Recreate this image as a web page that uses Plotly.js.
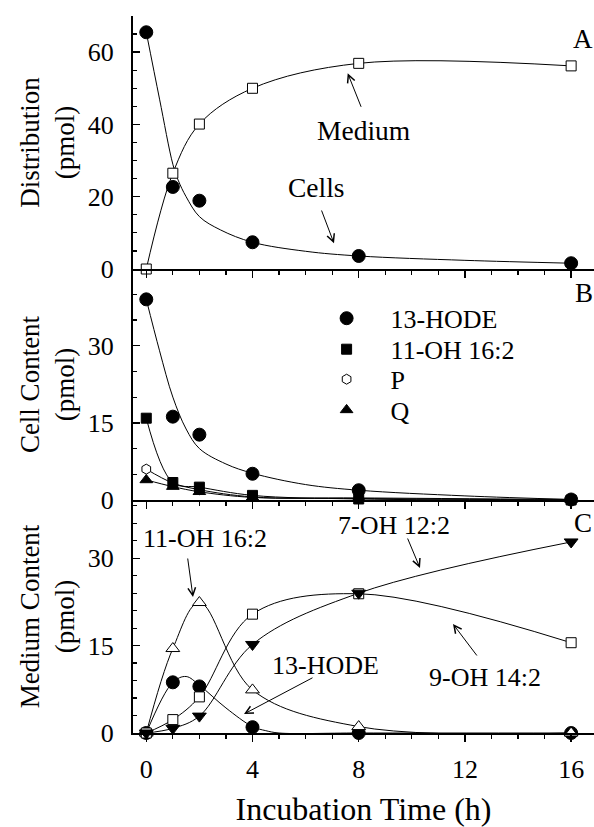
<!DOCTYPE html>
<html><head><meta charset="utf-8">
<script src="https://cdn.plot.ly/plotly-3.0.1.min.js"></script>
<style>html,body{margin:0;padding:0;overflow:hidden;background:#fff}#chart{width:594px;height:827px}</style>
</head><body><div id="chart"></div>
<script>
// ---------- data ----------
const hours = [0, 1, 2, 4, 8, 16];

// Panel A: distribution (pmol)
const cellsA  = [65.5, 22.7, 18.9, 7.4, 3.6, 1.6];
const mediumA = [0, 26.5, 40.1, 50.0, 56.9, 56.2];
const cellsCurveHours = [0, 0.5, 1, 1.2, 1.5, 2, 2.8, 4, 6, 8, 12, 16];
const cellsCurve      = [65.5, 47, 29, 24.6, 20, 14.5, 10.8, 7.4, 4.9, 3.6, 2.4, 1.6];

// Panel B: cell content (pmol)
const hodeB = [39.0, 16.2, 12.7, 5.1, 1.9, 0.1];
const oh16B = [15.9, 3.4, 2.5, 0.9, 0.2, 0];
const pB    = [6.0, 3.3, 2.0, 0.6, 0.3, 0];
const qB    = [3.9, 2.6, 1.6, 0.5, 0.4, 0.1];
const hodeCurveHoursB = [0, 0.5, 1, 1.5, 2, 3, 4, 6, 8, 12, 16];
const hodeCurveB      = [39, 29, 20, 13.8, 10, 7.0, 5.2, 3.0, 1.9, 0.8, 0.1];

// Panel C: medium content (pmol)
const oh16C = [0, 14.5, 22.4, 7.4, 1.1, 0];
const hodeC = [0, 8.7, 8.0, 1.0, 0, 0];
const oh14C = [0, 2.3, 6.2, 20.4, 23.9, 15.5];
const oh12C = [0, 0.8, 2.9, 15.2, 24.0, 32.8];
const hodeCurveHoursC = [0, 1, 1.5, 2, 3, 4, 4.5, 5, 8, 16];
const hodeCurveC      = [0, 8.7, 9.7, 8.2, 4.3, 1.1, 0.4, 0, 0, 0];

const legendNames = ['13-HODE', '11-OH 16:2', 'P', 'Q'];

// ---------- geometry helpers (page pixels -> paper) ----------
const W = 594, H = 827;
const L = 133, R = 594, T = 16, B = 733;
const px = x => (x - L) / (R - L);
const py = y => (B - y) / (B - T);

const FONT = '"Liberation Serif", "Times New Roman", Times, serif';
const K = 'black';

function lineTrace(x, y, ax, extra) {
  return Object.assign({x, y, xaxis: 'x' + ax, yaxis: 'y' + ax, mode: 'lines',
    line: {shape: 'spline', smoothing: 1, color: K, width: 1},
    cliponaxis: false, showlegend: false, hoverinfo: 'skip'}, extra || {});
}
function markerTrace(y, ax, symbol, size, fill, extra) {
  return Object.assign({x: hours, y, xaxis: 'x' + ax, yaxis: 'y' + ax, mode: 'markers',
    marker: {symbol, size, color: fill, line: {color: K, width: 1}},
    cliponaxis: false, showlegend: false}, extra || {});
}
const ax3 = '3', ax2 = '2', ax1 = '';

const traces = [
  // Panel A
  lineTrace(cellsCurveHours, cellsCurve, ax3),
  lineTrace(hours, mediumA, ax3),
  markerTrace(mediumA, ax3, 'square', 10, 'white'),
  markerTrace(cellsA, ax3, 'circle', 13, K),
  // Panel B
  lineTrace(hodeCurveHoursB, hodeCurveB, ax2),
  lineTrace(hours, oh16B, ax2),
  lineTrace(hours, pB, ax2),
  lineTrace(hours, qB, ax2),
  markerTrace(pB, ax2, 'hexagon', 10, 'white', {name: legendNames[2], showlegend: true, legend: 'legend3'}),
  markerTrace(qB, ax2, 'triangle-up', 11, K, {name: legendNames[3], showlegend: true, legend: 'legend4'}),
  markerTrace(oh16B, ax2, 'square', 10, K, {name: legendNames[1], showlegend: true, legend: 'legend2'}),
  markerTrace(hodeB, ax2, 'circle', 13, K, {name: legendNames[0], showlegend: true, legend: 'legend'}),
  // Panel C
  lineTrace(hours, oh16C, ax1),
  lineTrace(hodeCurveHoursC, hodeCurveC, ax1),
  lineTrace(hours, oh14C, ax1),
  lineTrace(hours, oh12C, ax1),
  markerTrace(hodeC, ax1, 'circle', 13, K),
  markerTrace(oh16C, ax1, 'triangle-up', 12, 'white'),
  markerTrace(oh14C, ax1, 'square', 10, 'white'),
  markerTrace(oh12C, ax1, 'triangle-down', 12, K)
];

const xRight = (R - 146) / 26.57;   // hour value at the right edge of the visible frame
const xBase = {
  range: [-0.5, xRight], tick0: 0, dtick: 4, ticks: 'outside', ticklen: 7, tickwidth: 1.5, tickcolor: K,
  minor: {tick0: 0, dtick: 1, ticks: 'outside', ticklen: 4, tickwidth: 1.2, tickcolor: K},
  showline: true, linecolor: K, linewidth: 2.2, zeroline: false, showgrid: false, fixedrange: true
};
const yBase = {
  ticks: 'inside', ticklen: 7, tickwidth: 1.5, tickcolor: K,
  minor: {ticks: 'inside', ticklen: 4, tickwidth: 1.2, tickcolor: K},
  showline: true, linecolor: K, linewidth: 2, mirror: false, zeroline: false, showgrid: false,
  tickfont: {size: 26, family: FONT, color: K}, ticklabelstandoff: 12, fixedrange: true
};
const dC = py(500), dB = py(269);

function legendAt(yPix) {
  return {x: px(302.6), xanchor: 'left', y: py(yPix), yanchor: 'middle', itemwidth: 78,
    font: {size: 26, family: FONT, color: K}, bgcolor: 'rgba(0,0,0,0)', borderwidth: 0};
}

function label(text, x, y, size) {
  return {text, x: px(x), y: py(y), xref: 'paper', yref: 'paper', showarrow: false,
    font: {size: size || 26, family: FONT, color: K}, xanchor: 'center', yanchor: 'middle'};
}
function arrow(hx, hy, tx, ty) {
  return {text: '', x: px(hx), y: py(hy), xref: 'paper', yref: 'paper', ax: tx - hx, ay: ty - hy,
    showarrow: true, arrowhead: 5, arrowsize: 1.5, arrowwidth: 1, arrowcolor: K, standoff: 0, startstandoff: 0};
}
function ytitle(text) {
  return {text, font: {size: 27, family: FONT, color: K}, standoff: 5};
}

const layout = {
  width: W, height: H, margin: {l: L, r: W - R, t: T, b: H - B, pad: 0},
  paper_bgcolor: 'white', plot_bgcolor: 'white',
  font: {family: FONT, color: K, size: 26},
  xaxis: Object.assign({}, xBase, {anchor: 'y', tickfont: {size: 26, family: FONT, color: K}, ticklabelstandoff: 5,
    title: {text: 'Incubation Time (h)', font: {size: 32, family: FONT, color: K}, standoff: 21}}),
  xaxis2: Object.assign({}, xBase, {anchor: 'y2', matches: 'x', showticklabels: false}),
  xaxis3: Object.assign({}, xBase, {anchor: 'y3', matches: 'x', showticklabels: false}),
  xaxis4: Object.assign({}, xBase, {overlaying: 'x3', side: 'top', anchor: 'y3', ticks: 'inside',
    minor: Object.assign({}, xBase.minor, {ticks: 'inside'}), showticklabels: false}),
  yaxis: Object.assign({}, yBase, {domain: [0, dC], anchor: 'x', range: [0, 40], dtick: 15,
    minor: Object.assign({}, yBase.minor, {dtick: 3}), title: ytitle('Medium Content<br>(pmol)')}),
  yaxis2: Object.assign({}, yBase, {domain: [dC, dB], anchor: 'x2', range: [0, 44.9], dtick: 15,
    minor: Object.assign({}, yBase.minor, {dtick: 5}), title: ytitle('Cell Content<br>(pmol)')}),
  yaxis3: Object.assign({}, yBase, {domain: [dB, 1], anchor: 'x3', range: [0, 70], dtick: 20,
    minor: Object.assign({}, yBase.minor, {dtick: 5}), title: ytitle('Distribution<br>(pmol)')}),
  legend: legendAt(318.3),
  legend2: legendAt(349.3),
  legend3: legendAt(379.3),
  legend4: legendAt(410),
  annotations: [
    label('A', 583, 39, 27), label('B', 584, 293, 27), label('C', 583, 523, 27),
    label('Medium', 363.6, 130, 27.5), label('Cells', 316, 187, 27.5),
    label('11-OH 16:2', 205, 538), label('7-OH 12:2', 394, 525),
    label('13-HODE', 325, 665), label('9-OH 14:2', 485, 677),
    arrow(347.7, 73.3, 361.7, 108.3),
    arrow(334, 243.3, 321, 209),
    arrow(193, 597, 187.5, 557),
    arrow(420, 568, 407, 537),
    arrow(244, 714, 314, 677),
    arrow(453, 624, 478, 657)
  ],
  showlegend: true
};

Plotly.newPlot('chart', traces, layout, {staticPlot: true, displayModeBar: false});
</script>
</body></html>
